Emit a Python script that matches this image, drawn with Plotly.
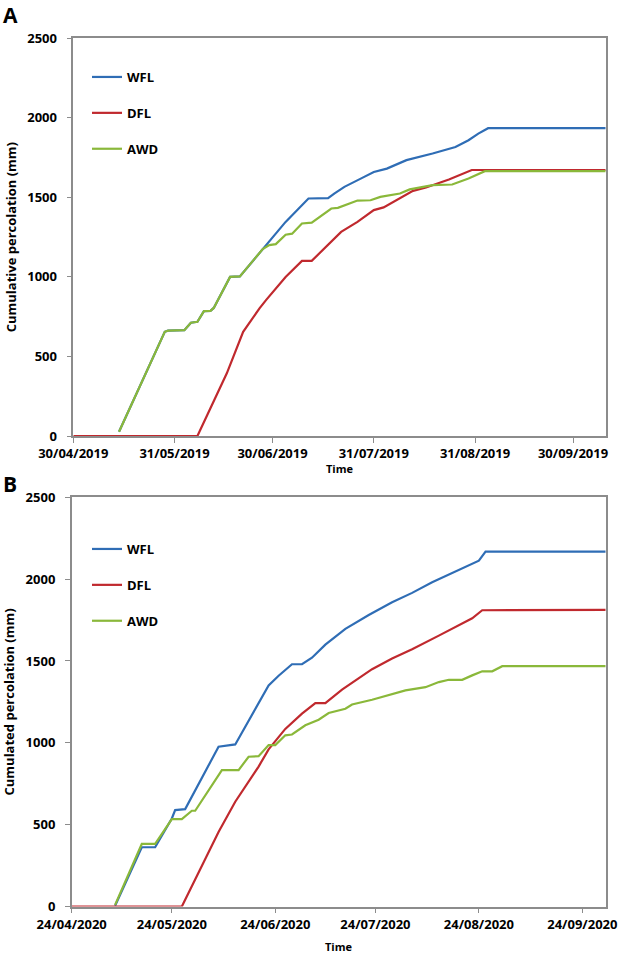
import plotly.graph_objects as go

# ---- panel A (2019) ----
wfl_2019_dates = ["2019-05-14", "2019-05-28", "2019-05-29", "2019-06-03", "2019-06-05", "2019-06-07",
                  "2019-06-09", "2019-06-11", "2019-06-12", "2019-06-17", "2019-06-20", "2019-06-27",
                  "2019-07-04", "2019-07-11", "2019-07-17", "2019-07-19", "2019-07-22", "2019-07-27",
                  "2019-07-31", "2019-08-04", "2019-08-10", "2019-08-18", "2019-08-25", "2019-08-29",
                  "2019-09-01", "2019-09-04", "2019-10-10"]
wfl_2019_mm = [27, 655, 662, 665, 712, 718, 785, 787, 805, 1000, 1003, 1175,
               1346, 1493, 1495, 1525, 1566, 1618, 1660, 1681, 1734, 1776, 1817, 1859,
               1901, 1935, 1935]

dfl_2019_dates = ["2019-04-30", "2019-06-07", "2019-06-16", "2019-06-21", "2019-06-26", "2019-06-28",
                  "2019-07-04", "2019-07-09", "2019-07-12", "2019-07-16", "2019-07-21", "2019-07-26",
                  "2019-07-31", "2019-08-03", "2019-08-12", "2019-08-16", "2019-08-23", "2019-08-30",
                  "2019-10-10"]
dfl_2019_mm = [0, 0, 394, 655, 802, 854, 1000, 1101, 1101, 1179, 1283, 1346,
               1420, 1437, 1541, 1562, 1612, 1672, 1672]

awd_2019_dates = ["2019-05-14", "2019-05-28", "2019-05-29", "2019-06-03", "2019-06-05", "2019-06-07",
                  "2019-06-09", "2019-06-11", "2019-06-12", "2019-06-17", "2019-06-20", "2019-06-27",
                  "2019-06-29", "2019-07-01", "2019-07-04", "2019-07-06", "2019-07-09", "2019-07-12",
                  "2019-07-18", "2019-07-20", "2019-07-26", "2019-07-30", "2019-08-02", "2019-08-08",
                  "2019-08-11", "2019-08-18", "2019-08-24", "2019-08-29", "2019-09-03", "2019-10-10"]
awd_2019_mm = [27, 655, 662, 665, 712, 718, 785, 787, 805, 1000, 1003, 1175,
               1200, 1206, 1265, 1272, 1336, 1341, 1430, 1434, 1480, 1482, 1503, 1524,
               1550, 1577, 1581, 1619, 1665, 1665]

ticks_2019 = ["2019-04-30", "2019-05-31", "2019-06-30", "2019-07-31", "2019-08-31", "2019-09-30"]
labels_2019 = ["30/04/2019", "31/05/2019", "30/06/2019", "31/07/2019", "31/08/2019", "30/09/2019"]

# ---- panel B (2020) ----
wfl_2020_dates = ["2020-05-07", "2020-05-15", "2020-05-19", "2020-05-24", "2020-05-25", "2020-05-28",
                  "2020-06-07", "2020-06-12", "2020-06-22", "2020-06-25", "2020-06-29", "2020-07-02",
                  "2020-07-05", "2020-07-09", "2020-07-15", "2020-07-22", "2020-07-29", "2020-08-04",
                  "2020-08-10", "2020-08-18", "2020-08-24", "2020-08-26", "2020-10-01"]
wfl_2020_mm = [5, 362, 362, 538, 589, 595, 976, 990, 1350, 1410, 1480, 1480,
               1520, 1600, 1696, 1781, 1859, 1916, 1981, 2058, 2113, 2168, 2168]

dfl_2020_dates = ["2020-04-24", "2020-05-27", "2020-06-07", "2020-06-12", "2020-06-19", "2020-06-22",
                  "2020-06-27", "2020-07-02", "2020-07-06", "2020-07-09", "2020-07-14", "2020-07-23",
                  "2020-07-29", "2020-08-04", "2020-08-12", "2020-08-18", "2020-08-22", "2020-08-25",
                  "2020-10-01"]
dfl_2020_mm = [0, 0, 455, 640, 855, 960, 1085, 1178, 1243, 1243, 1325, 1450,
               1515, 1572, 1655, 1716, 1761, 1810, 1812]

awd_2020_dates = ["2020-05-07", "2020-05-15", "2020-05-19", "2020-05-24", "2020-05-27", "2020-05-30",
                  "2020-05-31", "2020-06-08", "2020-06-13", "2020-06-16", "2020-06-19", "2020-06-22",
                  "2020-06-24", "2020-06-27", "2020-06-29", "2020-07-03", "2020-07-07", "2020-07-10",
                  "2020-07-15", "2020-07-17", "2020-07-23", "2020-07-28", "2020-08-02", "2020-08-08",
                  "2020-08-12", "2020-08-15", "2020-08-19", "2020-08-22", "2020-08-25", "2020-08-28",
                  "2020-08-31", "2020-10-01"]
awd_2020_mm = [10, 382, 382, 534, 534, 585, 585, 833, 833, 915, 918, 986,
               986, 1046, 1051, 1107, 1141, 1182, 1208, 1234, 1263, 1290, 1320, 1340,
               1371, 1385, 1385, 1412, 1437, 1437, 1468, 1468]

ticks_2020 = ["2020-04-24", "2020-05-24", "2020-06-24", "2020-07-24", "2020-08-24", "2020-09-24"]
labels_2020 = ["24/04/2020", "24/05/2020", "24/06/2020", "24/07/2020", "24/08/2020", "24/09/2020"]

BLUE = "#2F6DB5"
RED = "#C0292E"
GREEN = "#8AB83A"
GREY = "#8C8C8C"
FONT = "Open Sans"

fig = go.Figure()

series = [
    ("WFL", wfl_2019_dates, wfl_2019_mm, BLUE, "x", "y", "legend"),
    ("DFL", dfl_2019_dates, dfl_2019_mm, RED, "x", "y", "legend"),
    ("AWD", awd_2019_dates, awd_2019_mm, GREEN, "x", "y", "legend"),
    ("WFL", wfl_2020_dates, wfl_2020_mm, BLUE, "x2", "y2", "legend2"),
    ("DFL", dfl_2020_dates, dfl_2020_mm, RED, "x2", "y2", "legend2"),
    ("AWD", awd_2020_dates, awd_2020_mm, GREEN, "x2", "y2", "legend2"),
]
for name, xs, ys, col, xa, ya, lg in series:
    fig.add_trace(go.Scatter(
        x=xs, y=ys, name=name, mode="lines",
        line=dict(color=col, width=2.2),
        xaxis=xa, yaxis=ya, legend=lg, legendgroup=lg + name,
    ))

W, H = 624, 956


def px_x(p):
    return p / W


def px_y(p):
    return 1 - p / H


tickfont = dict(family=FONT, size=13, color="black", weight="bold")
xcommon = dict(type="date", showline=True, mirror=True, linecolor=GREY, linewidth=1.5,
               ticks="outside", ticklen=5, tickcolor=GREY, tickwidth=1.2, automargin=False,
               showgrid=False, zeroline=False, tickfont=tickfont)
ycommon = dict(range=[0, 2500], dtick=500, showline=True, mirror=True, linecolor=GREY,
               linewidth=1.5, ticks="outside", ticklen=5, tickcolor=GREY, tickwidth=1.2,
               ticklabelstandoff=7, automargin=False, showgrid=False, zeroline=False,
               tickfont=tickfont)

legend_style = dict(font=dict(family=FONT, size=13, color="black", weight="bold"),
                    bgcolor="rgba(0,0,0,0)", borderwidth=0, tracegroupgap=16,
                    xanchor="left", yanchor="top", itemwidth=30)

fig.update_layout(
    width=W, height=H,
    margin=dict(l=0, r=0, t=0, b=0),
    paper_bgcolor="white", plot_bgcolor="white",
    font=dict(family=FONT, color="black"),
    xaxis=dict(xcommon, domain=[px_x(73.3), px_x(605.7)], anchor="y",
               range=["2019-04-30", "2019-10-10"],
               tickvals=ticks_2019, ticktext=labels_2019),
    yaxis=dict(ycommon, domain=[px_y(436), px_y(38.3)], anchor="x",
               title=dict(text="Cumulative percolation (mm)",
                          font=dict(family=FONT, size=13, weight="bold"), standoff=8)),
    xaxis2=dict(xcommon, domain=[px_x(71.7), px_x(605.7)], anchor="y2",
                range=["2020-04-24", "2020-10-01"],
                tickvals=ticks_2020, ticktext=labels_2020),
    yaxis2=dict(ycommon, domain=[px_y(906.5), px_y(497.3)], anchor="x2",
                title=dict(text="Cumulated percolation (mm)",
                           font=dict(family=FONT, size=13, weight="bold"), standoff=8)),
    legend=dict(legend_style, x=px_x(87), y=px_y(62)),
    legend2=dict(legend_style, x=px_x(87), y=px_y(534)),
    showlegend=True,
)

# panel letters
for txt, ypx in [("A", -1), ("B", 468)]:
    fig.add_annotation(text=f"<b>{txt}</b>", xref="paper", yref="paper",
                       x=px_x(1), y=px_y(ypx), xanchor="left", yanchor="top",
                       showarrow=False, font=dict(family=FONT, size=21, color="black"))

# x-axis titles
for xpx, ypx in [(339.5, 468), (338.7, 946)]:
    fig.add_annotation(text="<b>Time</b>", xref="paper", yref="paper",
                       x=px_x(xpx), y=px_y(ypx), xanchor="center", yanchor="middle",
                       showarrow=False, font=dict(family=FONT, size=11, color="black"))

fig.write_html("out.html", config={"displayModeBar": False},
               post_script="document.body.style.margin = '0px';")
